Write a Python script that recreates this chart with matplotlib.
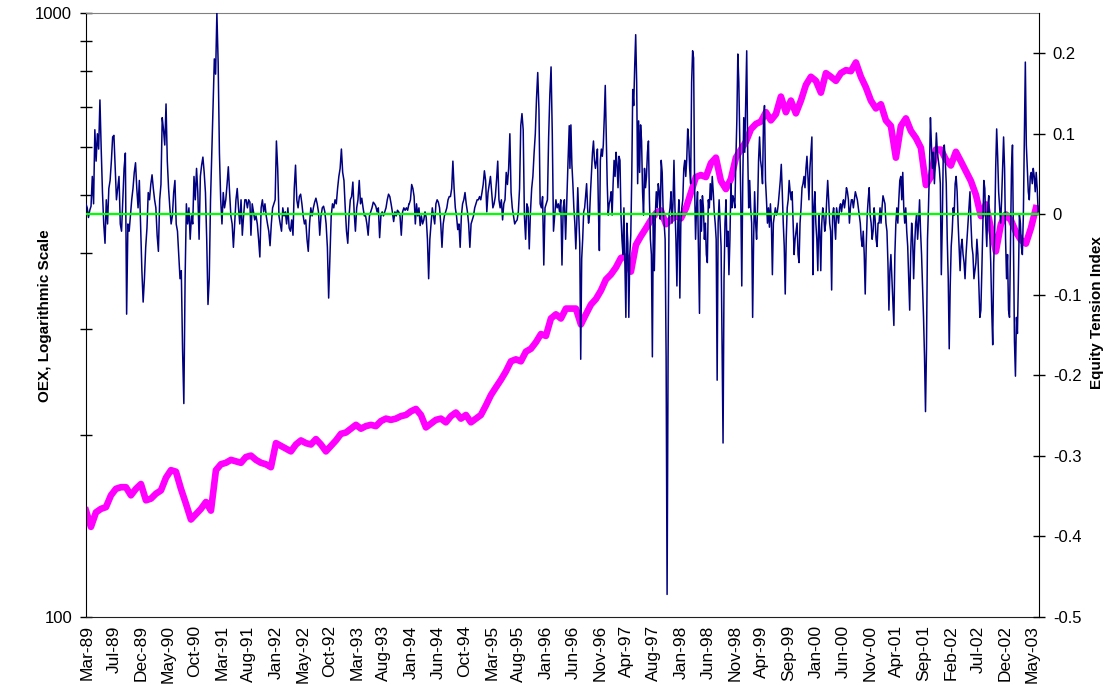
import numpy as np
import matplotlib
matplotlib.use("Agg")
import matplotlib.pyplot as plt
from matplotlib.ticker import FixedLocator, FixedFormatter, NullFormatter

plt.rcParams['font.family'] = ['Liberation Sans', 'DejaVu Sans']

# ---------------- data ----------------
date_labels = ["Mar-89", "Jul-89", "Dec-89", "May-90", "Oct-90", "Mar-91", "Aug-91", "Jan-92",
               "May-92", "Oct-92", "Mar-93", "Aug-93", "Jan-94", "Jun-94", "Oct-94", "Mar-95",
               "Aug-95", "Jan-96", "Jun-96", "Nov-96", "Apr-97", "Aug-97", "Jan-98", "Jun-98",
               "Nov-98", "Apr-99", "Sep-99", "Jan-00", "Jun-00", "Nov-00", "Apr-01", "Sep-01",
               "Feb-02", "Jul-02", "Dec-02", "May-03"]

# OEX level (evenly spaced in time, label-interval units from -0.037 to 35.148)
oex_span = (-0.037, 35.148)
oex = [150, 141, 149, 151, 152, 159, 163, 164, 164, 159, 163, 166, 156, 157, 160, 162, 170, 175,
       174, 163, 154, 145, 148, 151, 155, 150, 175, 179, 180, 182, 181, 180, 184,
       185, 182, 180, 179, 177, 194, 192, 190, 188, 193, 196, 194, 193, 197, 193, 188, 192, 196,
       201, 202, 205, 208, 205, 207, 208, 207, 211, 213, 212, 213, 215, 216,
       219, 221, 216, 206, 209, 212, 213, 210, 215, 218, 213, 216, 210, 213, 216, 224, 233, 240,
       247, 255, 265, 267, 265, 275, 278, 285, 294, 292, 312, 317, 312, 324,
       324, 324, 305, 317, 329, 336, 347, 362, 369, 379, 393, 395, 373, 413, 427, 440, 454, 466,
       471, 447, 455, 461, 457, 475, 504, 535, 539, 535, 564, 576, 527, 511,
       531, 576, 594, 612, 642, 655, 661, 685, 664, 680, 727, 685, 716, 682, 716, 760, 784, 772,
       738, 795, 784, 772, 795, 804, 801, 828, 784, 753, 716, 695, 706, 664,
       650, 576, 650, 669, 638, 621, 598, 519, 535, 594, 594, 572, 559, 589, 568, 547, 527, 500,
       461, 482, 440, 403, 447, 464, 454, 434, 421, 415, 440, 475]

# Equity Tension Index, in six consecutive stretches (time spans in label-interval units)
eti_1989_91 = [0.013, 0.008, -0.004, 0.005, 0.010, 0.047, 0.013, 0.105, 0.066, 0.100,
               0.081, 0.142, 0.081, 0.027, -0.012, -0.036, 0.018, -0.012, 0.032, 0.042,
               0.066, 0.096, 0.098, 0.057, 0.018, 0.032, 0.047, -0.012, -0.021, 0.018,
               0.057, 0.076, -0.124, -0.012, -0.021, -0.002, 0.018, 0.032, 0.052, 0.064,
               0.032, 0.008, 0.042, -0.012, -0.070, -0.109, -0.080, -0.041, -0.017, 0.027,
               0.018, 0.037, 0.049, 0.032, 0.018, 0.008, -0.026, -0.046, 0.018, 0.037,
               0.120, 0.105, 0.086, 0.137, 0.066, 0.032, 0.008, -0.012, -0.002, 0.027,
               0.042, -0.012, -0.021, -0.051, -0.080, -0.070, -0.168, -0.235, -0.080, 0.013,
               -0.012, 0.008, -0.031, -0.002, -0.012, 0.047, 0.018, 0.057, 0.027, -0.031,
               0.047, 0.061, 0.071, 0.052, 0.027, -0.031, -0.112, -0.080, 0.018, 0.076,
               0.135, 0.193, 0.174, 0.250, 0.188, 0.076, 0.018, -0.012, 0.027, 0.008,
               0.018, 0.037, 0.059, 0.027, -0.002, -0.012, -0.041, -0.012, 0.018, 0.032,
               0.008, -0.012, 0.018, -0.026, -0.002, 0.018, 0.018, 0.008, 0.018, 0.015]
eti_1991_93 = [-0.026, 0.013, 0.003, -0.007, -0.002, -0.012, -0.031, -0.053, 0.008, 0.018,
               0.003, 0.013, -0.002, -0.012, -0.021, -0.039, -0.012, 0.008, 0.013, 0.018,
               0.091, 0.057, -0.002, -0.012, -0.021, 0.008, -0.002, 0.003, -0.012, 0.008,
               -0.017, -0.021, -0.007, -0.026, 0.032, 0.061, 0.018, 0.008, 0.022, 0.025,
               0.013, -0.002, -0.012, -0.007, -0.031, -0.046, -0.012, 0.008, -0.002, 0.008,
               0.015, 0.020, 0.013, 0.003, -0.026, -0.002, 0.008, 0.010, 0.003, -0.012,
               -0.041, -0.104, -0.051, -0.002, 0.013, 0.008, 0.018, 0.013, 0.032, 0.047,
               0.057, 0.081, 0.052, 0.042, 0.008, -0.021, -0.036, -0.002, 0.018, 0.022,
               0.040, 0.003, -0.021, 0.008, 0.018, 0.042, 0.013, 0.020, 0.008, -0.002,
               -0.002, -0.012, -0.026, -0.002, 0.003, 0.008, 0.015, 0.013, 0.010, 0.003,
               0.008, -0.029, -0.002, 0.003, -0.002, 0.003, 0.008, 0.018, 0.025, 0.022,
               0.013, 0.003, -0.009, 0.003, -0.002, 0.005, 0.003, -0.002, -0.026, 0.003,
               0.008, 0.005, 0.008, 0.005, 0.013]
eti_1993_96 = [0.013, 0.018, 0.037, 0.032, 0.022, -0.012, 0.013, -0.002, 0.008, -0.014,
               -0.002, -0.012, -0.007, 0.003, -0.004, -0.031, -0.080, -0.031, -0.012, 0.008,
               -0.002, -0.012, 0.013, 0.018, 0.015, 0.008, -0.012, -0.041, -0.012, -0.002,
               0.003, 0.008, 0.018, 0.022, 0.022, 0.032, 0.066, 0.032, 0.008, -0.002,
               -0.019, -0.012, -0.041, -0.002, 0.013, 0.018, 0.027, 0.013, 0.003, -0.012,
               -0.041, -0.012, -0.007, -0.002, 0.008, 0.013, 0.018, 0.018, 0.022, 0.018,
               0.027, 0.037, 0.054, 0.042, 0.003, 0.027, 0.037, 0.047, 0.027, 0.008,
               0.013, 0.022, 0.042, 0.066, 0.018, 0.008, 0.018, -0.007, 0.013, 0.018,
               0.052, 0.037, 0.057, 0.100, 0.027, 0.008, -0.002, -0.012, -0.009, -0.007,
               0.003, 0.032, 0.110, 0.125, 0.105, -0.002, -0.031, 0.013, 0.008, -0.043,
               0.003, 0.032, 0.047, 0.076, 0.100, 0.144, 0.176, 0.130, 0.013, 0.008,
               0.022, -0.063, 0.008, 0.013, 0.018, 0.096, 0.149, 0.183, 0.100, -0.021,
               -0.002, 0.018, 0.008, 0.013, 0.003, 0.018, -0.063, 0.008, 0.018, -0.031,
               0.018, 0.066, 0.110]
eti_1996_98 = [0.057, 0.111, 0.062, 0.038, 0.008, -0.011, -0.043, -0.011, 0.033, -0.001,
               -0.036, -0.180, -0.055, -0.031, 0.003, 0.008, 0.023, 0.038, 0.008, -0.011,
               -0.001, 0.028, 0.052, 0.077, 0.091, 0.067, 0.057, 0.067, 0.081, 0.008,
               -0.045, 0.067, 0.081, 0.072, 0.086, 0.120, 0.160, 0.101, 0.038, -0.001,
               0.013, 0.018, 0.028, -0.001, 0.038, 0.067, 0.047, 0.077, 0.062, 0.033,
               0.072, 0.067, -0.001, -0.031, -0.050, 0.008, -0.060, -0.128, -0.011, -0.036,
               -0.128, -0.050, -0.026, 0.047, 0.155, 0.135, 0.184, 0.223, 0.164, 0.038,
               0.116, 0.052, 0.111, 0.091, 0.028, -0.001, 0.057, 0.033, 0.047, 0.077,
               0.091, 0.018, -0.031, -0.050, -0.177, -0.001, -0.070, -0.001, 0.028, 0.008,
               0.038, 0.028, -0.006, 0.067, 0.052, 0.003, -0.011, -0.031, -0.177, -0.472,
               -0.177, -0.001, 0.008, 0.028, -0.011, 0.013, 0.067, 0.008, -0.031, -0.089,
               -0.011, 0.018, -0.104, -0.011, 0.008, 0.018, 0.057, 0.067, 0.047, 0.067,
               0.106, 0.091, 0.057, 0.038, 0.164, 0.203, 0.194, 0.038, -0.031, 0.008,
               0.028, -0.050, -0.123, 0.018, -0.021, 0.023, 0.008, -0.031, -0.011, -0.050,
               -0.060, 0.018, 0.008, 0.038, 0.018, 0.047, 0.028, 0.003, -0.011, -0.031,
               -0.206, -0.011, 0.018, -0.011, -0.040, -0.167, -0.284, -0.080, -0.011, 0.018,
               -0.040, -0.021, -0.075, -0.031]
eti_1998_00 = [0.038, 0.008, 0.023, 0.018, 0.008, 0.067, 0.116, 0.199, 0.164, 0.091,
               0.018, -0.089, 0.042, 0.120, 0.077, 0.140, 0.203, 0.077, 0.008, 0.042,
               0.008, -0.011, -0.128, -0.031, 0.028, -0.011, -0.031, 0.008, 0.067, 0.096,
               0.067, 0.057, 0.038, 0.116, 0.135, 0.042, 0.018, -0.011, 0.008, -0.016,
               0.013, -0.011, -0.075, -0.011, -0.001, 0.008, -0.001, 0.003, 0.013, 0.028,
               0.042, 0.062, 0.028, -0.011, -0.040, -0.099, -0.031, 0.008, 0.018, 0.042,
               0.028, 0.018, 0.028, -0.011, -0.050, -0.031, -0.021, -0.011, -0.050, -0.060,
               -0.011, 0.008, 0.033, 0.038, 0.047, 0.033, 0.057, 0.072, 0.047, 0.018,
               0.057, 0.077, 0.096, -0.075, 0.008, 0.028, -0.011, -0.031, -0.070, -0.001,
               -0.021, -0.070, -0.011, 0.008, -0.001, -0.021, -0.011, 0.018, 0.042, 0.018,
               -0.011, -0.021, -0.094, -0.001, 0.008, -0.011, -0.031, 0.008, -0.001, -0.011,
               0.008, 0.013, 0.003, 0.013, 0.018, 0.008, 0.018, 0.033, 0.028, 0.018,
               -0.011, 0.008, 0.018, 0.018, 0.008, 0.018, 0.028, 0.023, 0.018, 0.008,
               -0.001, -0.011, -0.031, -0.040, -0.021, -0.050, -0.099, -0.040, -0.001, 0.018,
               0.033, -0.001, -0.011, -0.031, -0.021, 0.008, -0.006, -0.031, -0.040, -0.011,
               -0.011, 0.008, -0.011, 0.008, 0.023, 0.018, 0.013, -0.011, -0.021, -0.060,
               -0.119, -0.070]
eti_2000_03 = [-0.050, -0.080, -0.109, -0.138, -0.050, -0.011, 0.008, -0.011, 0.018, 0.042,
               0.047, 0.018, 0.052, 0.008, -0.011, 0.008, -0.021, -0.040, -0.080, -0.119,
               -0.050, -0.011, -0.031, -0.080, -0.040, -0.011, -0.001, -0.031, -0.011, 0.018,
               -0.021, -0.050, -0.089, -0.128, -0.177, -0.245, -0.167, -0.031, 0.008, 0.057,
               0.120, 0.086, 0.057, 0.077, 0.038, 0.067, 0.101, 0.077, 0.067, 0.057,
               0.038, -0.075, -0.011, 0.077, 0.086, 0.067, 0.038, -0.031, -0.080, -0.167,
               -0.089, -0.040, -0.021, 0.008, -0.001, 0.038, 0.047, 0.028, -0.011, -0.040,
               -0.070, -0.040, -0.031, -0.050, -0.060, -0.080, -0.050, -0.031, -0.011, 0.008,
               0.028, -0.011, -0.040, -0.050, -0.080, -0.070, -0.060, -0.031, -0.050, -0.089,
               -0.128, -0.119, -0.070, -0.011, 0.042, 0.032, -0.011, -0.040, 0.008, 0.023,
               -0.021, -0.060, -0.119, -0.162, -0.060, -0.021, 0.057, 0.106, 0.072, 0.028,
               0.008, -0.011, 0.018, 0.057, 0.096, 0.057, -0.031, -0.080, -0.050, -0.119,
               -0.128, -0.031, 0.057, 0.086, -0.031, -0.158, -0.201, -0.128, -0.148, -0.080,
               -0.001, -0.011, -0.040, -0.050, -0.001, 0.096, 0.189, 0.086, 0.057, 0.028,
               0.018, 0.047, 0.052, 0.038, 0.057, 0.047, 0.028, 0.052, 0.032, 0.003]
eti_segments = [eti_1989_91, eti_1991_93, eti_1993_96, eti_1996_98, eti_1998_00, eti_2000_03]
eti_spans = [(-0.037, 6.037), (6.074, 11.926), (11.938, 17.864),
             (17.889, 23.815), (23.852, 29.741), (29.778, 35.233)]

right_ticks = [-0.5, -0.4, -0.3, -0.2, -0.1, 0.0, 0.1, 0.2]
right_labels = ["-0.5", "-0.4", "-0.3", "-0.2", "-0.1", "0", "0.1", "0.2"]

# ---------------- figure ----------------
fig = plt.figure(figsize=(11.09, 6.85), dpi=100)
ax = fig.add_axes([0.0775, 0.0993, 0.8593, 0.8818])

x_oex = np.linspace(oex_span[0], oex_span[1], len(oex))
ax.plot(x_oex, oex, color="#FF00FF", lw=4.8, solid_joinstyle="round", zorder=2)
ax.set_yscale("log")
ax.set_ylim(100, 1000)
ax.set_xlim(-0.037, 35.26)

ax.yaxis.set_major_locator(FixedLocator([100, 1000]))
ax.yaxis.set_major_formatter(FixedFormatter(["100", "1000"]))
ax.yaxis.set_minor_locator(FixedLocator([200, 300, 400, 500, 600, 700, 800, 900]))
ax.yaxis.set_minor_formatter(NullFormatter())
ax.tick_params(axis="y", which="both", direction="inout", length=8, width=1, labelsize=12, pad=6)

ax.set_xticks(range(len(date_labels)))
ax.set_xticklabels(date_labels, rotation=90, fontsize=12.5)
ax.tick_params(axis="x", length=0, pad=6)

ax.spines["top"].set_color("#808080")
ax.spines["bottom"].set_color("#202020")
ax.spines["right"].set_visible(False)
ax.spines["left"].set_color("black")

ax2 = ax.twinx()
x_eti = np.concatenate([np.linspace(s[0], s[1], len(seg)) for s, seg in zip(eti_spans, eti_segments)])
y_eti = np.concatenate([np.array(seg) for seg in eti_segments])
ax2.plot(x_eti, y_eti, color="#000080", lw=1.1, zorder=3)
ax2.axhline(0, color="#00FF00", lw=1.6, zorder=4)
ax2.set_ylim(-0.5, 0.25)
ax2.set_yticks(right_ticks)
ax2.set_yticklabels(right_labels)
ax2.tick_params(axis="y", direction="inout", length=8, width=1, labelsize=12, pad=6)
for s in ["top", "bottom", "left"]:
    ax2.spines[s].set_visible(False)
ax2.spines["right"].set_color("black")
ax2.set_xlim(-0.037, 35.26)

fig.text(45 / 1109, 1 - 316 / 685, "OEX, Logarithmic Scale", rotation=90,
         ha="center", va="center", fontsize=11, fontweight="bold")
fig.text(1097 / 1109, 1 - 313 / 685, "Equity Tension Index", rotation=90,
         ha="center", va="center", fontsize=11, fontweight="bold")

fig.savefig("out.png", dpi=100)
